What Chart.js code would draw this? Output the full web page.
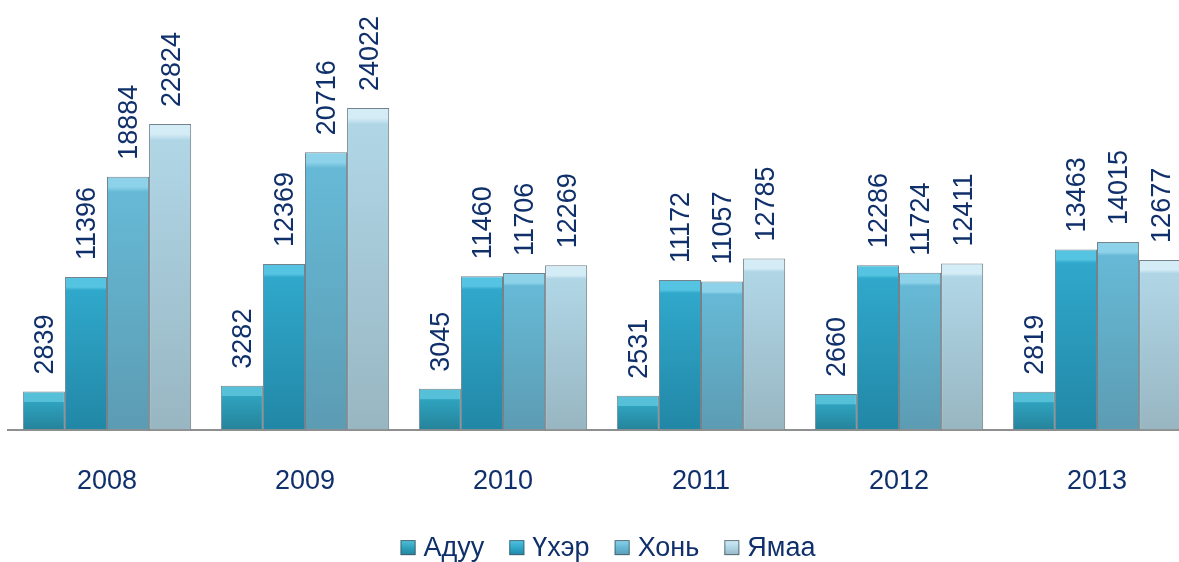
<!DOCTYPE html>
<html>
<head>
<meta charset="utf-8">
<script src="https://cdn.jsdelivr.net/npm/chart.js@4/dist/chart.umd.min.js"></script>
<style>
  html, body { margin: 0; padding: 0; background: #fff; overflow: hidden; }
  #wrap { width: 1204px; height: 562px; }
</style>
</head>
<body>
<div id="wrap"><canvas id="chart"></canvas></div>
<script>
const years = ['2008', '2009', '2010', '2011', '2012', '2013'];
const seriesNames = ['Адуу', 'Үхэр', 'Хонь', 'Ямаа'];
const aduu = [2839, 3282, 3045, 2531, 2660, 2819];
const ukher = [11396, 12369, 11460, 11172, 12286, 13463];
const khon = [18884, 20716, 11706, 11057, 11724, 14015];
const yamaa = [22824, 24022, 12269, 12785, 12411, 12677];

// top, middle, bottom colours of every series
const shades = [
    ['#56c0d8', '#2fa2be', '#25839b'],
    ['#55c4e2', '#30a8cb', '#2287a6'],
    ['#8ed2ea', '#66b9d6', '#5c9cb3'],
    ['#d4ecf5', '#b0d6e6', '#98b6c2']
];

const textColor = '#10306b';
const font = '"Liberation Sans", Arial, sans-serif';

function barFill(i) {
    return function (context) {
        const chart = context.chart;
        if (!chart.chartArea) return shades[i][1];
        const v = context.parsed ? context.parsed.y : context.raw;
        if (v == null) return shades[i][1];
        const top = chart.scales.y.getPixelForValue(v);
        const base = chart.scales.y.getPixelForValue(0);
        const h = Math.max(base - top, 1);
        const g = chart.ctx.createLinearGradient(0, top, 0, base);
        const edge = Math.min(10 / h, 0.4);
        g.addColorStop(0, shades[i][0]);
        g.addColorStop(edge, shades[i][0]);
        g.addColorStop(Math.min(edge + 0.02, 0.5), shades[i][1]);
        g.addColorStop(1, shades[i][2]);
        return g;
    };
}

const allData = [aduu, ukher, khon, yamaa];
const datasets = allData.map((d, i) => ({
    label: seriesNames[i],
    data: d,
    backgroundColor: barFill(i),
    borderColor: 'rgba(70, 90, 100, 0.75)',
    borderWidth: 1,
    borderSkipped: 'bottom',
    categoryPercentage: 0.85,
    barPercentage: 1
}));

// values written upright above every bar
const valueLabels = {
    id: 'valueLabels',
    afterDatasetsDraw(chart) {
        const ctx = chart.ctx;
        ctx.save();
        ctx.fillStyle = textColor;
        ctx.font = '27px ' + font;
        ctx.textAlign = 'left';
        ctx.textBaseline = 'middle';
        chart.data.datasets.forEach((ds, di) => {
            chart.getDatasetMeta(di).data.forEach((bar, j) => {
                ctx.save();
                ctx.translate(bar.x + 2, bar.y - 17);
                ctx.rotate(-Math.PI / 2);
                ctx.fillText(String(ds.data[j]), 0, 0);
                ctx.restore();
            });
        });
        ctx.restore();
    }
};

// legend under the year labels, spaced like the original
const bottomLegend = {
    id: 'bottomLegend',
    afterDraw(chart) {
        const ctx = chart.ctx;
        const box = 15, gap = 8, space = 25;
        const cy = chart.chartArea.bottom + 118;
        ctx.save();
        ctx.font = '27px ' + font;
        ctx.textBaseline = 'middle';
        ctx.textAlign = 'left';
        const widths = chart.data.datasets.map(ds => ctx.measureText(ds.label).width);
        let total = widths.reduce((a, w) => a + box + gap + w, 0) + space * (widths.length - 1);
        let x = (chart.chartArea.left + chart.chartArea.right) / 2 + 6 - total / 2;
        chart.data.datasets.forEach((ds, i) => {
            const g = ctx.createLinearGradient(0, cy - box / 2, 0, cy + box / 2);
            g.addColorStop(0, shades[i][0]);
            g.addColorStop(0.5, shades[i][1]);
            g.addColorStop(1, shades[i][2]);
            ctx.fillStyle = g;
            ctx.fillRect(x, cy - box / 2, box, box);
            ctx.strokeStyle = 'rgba(70, 90, 100, 0.8)';
            ctx.lineWidth = 1;
            ctx.strokeRect(x + 0.5, cy - box / 2 + 0.5, box - 1, box - 1);
            ctx.fillStyle = textColor;
            ctx.fillText(ds.label, x + box + gap, cy + 1);
            x += box + gap + widths[i] + space;
        });
        ctx.restore();
    }
};

new Chart(document.getElementById('chart'), {
    type: 'bar',
    data: { labels: years, datasets: datasets },
    options: {
        responsive: true,
        maintainAspectRatio: false,
        animation: false,
        layout: { padding: { top: 28, left: 8, right: 8, bottom: 36 } },
        scales: {
            x: {
                grid: { display: false },
                border: { display: true, color: '#8f8f8f', width: 2 },
                ticks: { color: textColor, font: { family: font, size: 27 }, padding: 28 }
            },
            y: { display: false, min: 0, max: 30000 }
        },
        plugins: {
            legend: { display: false },
            tooltip: { enabled: false }
        }
    },
    plugins: [valueLabels, bottomLegend]
});
</script>
</body>
</html>
